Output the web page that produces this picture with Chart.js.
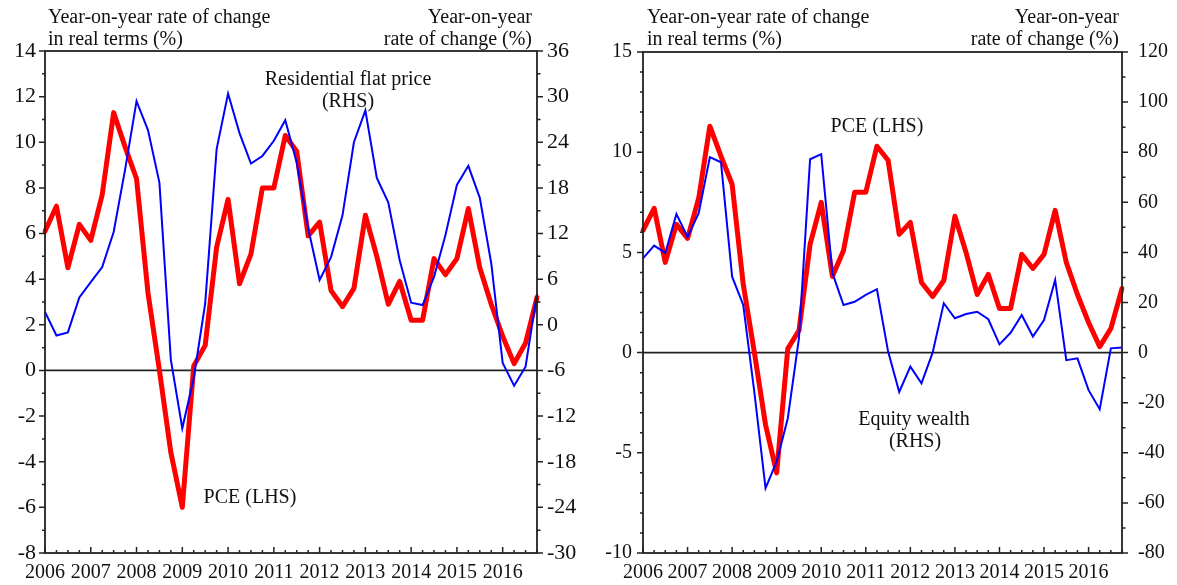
<!DOCTYPE html>
<html>
<head>
<meta charset="utf-8">
<script src="https://cdn.jsdelivr.net/npm/chart.js@4.4.1/dist/chart.umd.min.js"></script>
<style>
body { margin: 0; background: #fff; }
canvas { position: absolute; top: 0; }
#c1 { left: 0; }
#c2 { left: 588px; }
</style>
</head>
<body>
<canvas id="c1" width="588" height="585"></canvas>
<canvas id="c2" width="589" height="585"></canvas>
<script>
// quarterly data, 2006Q1 .. 2016Q4
var years = [2006, 2007, 2008, 2009, 2010, 2011, 2012, 2013, 2014, 2015, 2016];
var quarters = [];
years.forEach(function (y) {
    for (var q = 1; q <= 4; q++) quarters.push(y + 'Q' + q);
});

// PCE, yoy real (%) - LHS in both panels
var pce = [6.1, 7.2, 4.5, 6.4, 5.7, 7.7, 11.3, 9.8, 8.4, 3.4, 0.0, -3.6,
           -6.0, 0.2, 1.1, 5.4, 7.5, 3.8, 5.1, 8.0, 8.0, 10.3, 9.6, 5.9,
           6.5, 3.5, 2.8, 3.6, 6.8, 5.0, 2.9, 3.9, 2.2, 2.2, 4.9, 4.2,
           4.9, 7.1, 4.5, 2.9, 1.5, 0.3, 1.2, 3.2];

// residential flat price, yoy (%) - RHS left panel
var flatPrice = [1.7, -1.4, -1.0, 3.6, 5.6, 7.6, 12.2, 20.4, 29.4, 25.6, 18.7, -4.6,
                 -13.6, -7.0, 2.8, 23.1, 30.4, 25.2, 21.2, 22.2, 24.2, 26.9, 21.3, 12.7,
                 5.9, 8.9, 14.4, 24.0, 28.2, 19.3, 16.1, 8.5, 2.9, 2.6, 6.3, 11.8,
                 18.4, 20.9, 16.7, 8.1, -5.0, -8.0, -5.5, 4.1];

// equity wealth, yoy (%) - RHS right panel
var equity = [37.6, 42.7, 39.8, 55.3, 46.2, 55.7, 78.0, 76.0, 30.3, 19.0, -16.0, -54.1,
              -43.5, -26.2, 5.8, 77.2, 79.2, 31.8, 19.0, 20.3, 23.0, 25.3, 0.5, -15.7,
              -5.6, -12.3, 0.0, 19.7, 13.7, 15.4, 16.3, 13.3, 3.3, 7.9, 15.0, 6.4,
              13.0, 29.0, -3.0, -2.3, -15.0, -22.6, 1.7, 2.0];

var FONT = 'Liberation Serif, Times New Roman, serif';
var TXT = '#111';
var AXIS = '#222';

function isMajor(v, min, step) {
    var k = (v - min) / step;
    return Math.abs(k - Math.round(k)) < 1e-6;
}

var decor = {
    id: 'decor',
    beforeDatasetsDraw: function (chart, args, o) {
        var ctx = chart.ctx, a = chart.chartArea;
        var y0 = chart.scales.yL.getPixelForValue(0);
        ctx.save();
        ctx.strokeStyle = AXIS;
        ctx.lineWidth = 1.8;
        ctx.beginPath();
        ctx.moveTo(a.left, y0); ctx.lineTo(a.right, y0);
        ctx.stroke();
        ctx.restore();
    },
    afterDatasetsDraw: function (chart, args, o) {
        var ctx = chart.ctx, a = chart.chartArea;
        var yl = chart.scales.yL, yr = chart.scales.yR, xs = chart.scales.x;
        ctx.save();
        ctx.strokeStyle = AXIS;
        ctx.lineWidth = 1.8;
        ctx.strokeRect(a.left, a.top, a.right - a.left, a.bottom - a.top);

        ctx.lineWidth = 1.5;
        ctx.beginPath();
        var v, p, len;
        for (v = o.l.min; v <= o.l.max + 1e-9; v += o.l.minor) {
            p = yl.getPixelForValue(v);
            len = isMajor(v, o.l.min, o.l.step) ? 6 : 3;
            ctx.moveTo(a.left, p); ctx.lineTo(a.left - len, p);
        }
        for (v = o.r.min; v <= o.r.max + 1e-9; v += o.r.minor) {
            p = yr.getPixelForValue(v);
            len = isMajor(v, o.r.min, o.r.step) ? 6 : 3.5;
            ctx.moveTo(a.right, p); ctx.lineTo(a.right + len, p);
        }
        for (var i = 0; i < quarters.length; i++) {
            p = xs.getPixelForValue(i);
            len = i % 4 === 0 ? 6 : 3;
            ctx.moveTo(p, a.bottom); ctx.lineTo(p, a.bottom - len);
        }
        ctx.stroke();

        ctx.fillStyle = TXT;
        ctx.font = '20px ' + FONT;
        ctx.textBaseline = 'alphabetic';
        o.texts.forEach(function (t) {
            ctx.textAlign = t.align;
            ctx.fillText(t.s, t.x, t.y);
        });
        ctx.restore();
    }
};

function makeChart(id, blueData, c) {
    var xFont = { family: FONT, size: 20 };
    var yFont = { family: FONT, size: c.ySize };
    return new Chart(document.getElementById(id), {
        type: 'line',
        data: {
            labels: quarters,
            datasets: [{
                data: pce,
                yAxisID: 'yL',
                borderColor: '#ff0000',
                borderWidth: 5,
                pointRadius: 0,
                tension: 0,
                borderJoinStyle: 'round',
                borderCapStyle: 'round',
                order: 1
            }, {
                data: blueData,
                yAxisID: 'yR',
                borderColor: '#0000ff',
                borderWidth: 2,
                pointRadius: 0,
                tension: 0,
                order: 0
            }]
        },
        options: {
            responsive: false,
            animation: false,
            devicePixelRatio: 1,
            layout: { padding: { top: c.top, left: 0, right: 0, bottom: 0 } },
            plugins: { legend: { display: false }, tooltip: { enabled: false }, decor: c },
            scales: {
                x: {
                    type: 'category',
                    offset: false,
                    grid: { display: false, drawTicks: false },
                    border: { display: false },
                    ticks: {
                        autoSkip: false, maxRotation: 0, padding: 8,
                        color: TXT, font: xFont,
                        callback: function (val, idx) { return idx % 4 === 0 ? String(years[idx / 4]) : ''; }
                    },
                    afterFit: function (s) { s.height = 32; }
                },
                yL: {
                    position: 'left',
                    min: c.l.min, max: c.l.max,
                    grid: { display: false, drawTicks: false },
                    border: { display: false },
                    ticks: { stepSize: c.l.step, padding: c.l.pad, color: TXT, font: yFont },
                    afterFit: function (s) { s.width = c.l.width; }
                },
                yR: {
                    position: 'right',
                    min: c.r.min, max: c.r.max,
                    grid: { display: false, drawTicks: false },
                    border: { display: false },
                    ticks: { stepSize: c.r.step, padding: c.r.pad, color: TXT, font: yFont },
                    afterFit: function (s) { s.width = c.r.width; }
                }
            }
        },
        plugins: [decor]
    });
}

makeChart('c1', flatPrice, {
    top: 51,
    ySize: 22,
    l: { min: -8, max: 14, step: 2, minor: 1, width: 45, pad: 9 },
    r: { min: -30, max: 36, step: 6, minor: 3, width: 51, pad: 10 },
    texts: [
        { s: 'Year-on-year rate of change', x: 48, y: 23, align: 'left' },
        { s: 'in real terms (%)', x: 48, y: 45, align: 'left' },
        { s: 'Year-on-year', x: 532, y: 23, align: 'right' },
        { s: 'rate of change (%)', x: 532, y: 45, align: 'right' },
        { s: 'Residential flat price', x: 348, y: 85, align: 'center' },
        { s: '(RHS)', x: 348, y: 107, align: 'center' },
        { s: 'PCE (LHS)', x: 250, y: 503, align: 'center' }
    ]
});

makeChart('c2', equity, {
    top: 52,
    ySize: 20,
    l: { min: -10, max: 15, step: 5, minor: 1, width: 55, pad: 11 },
    r: { min: -80, max: 120, step: 20, minor: 10, width: 55, pad: 16 },
    texts: [
        { s: 'Year-on-year rate of change', x: 59, y: 23, align: 'left' },
        { s: 'in real terms (%)', x: 59, y: 45, align: 'left' },
        { s: 'Year-on-year', x: 531, y: 23, align: 'right' },
        { s: 'rate of change (%)', x: 531, y: 45, align: 'right' },
        { s: 'PCE (LHS)', x: 289, y: 132, align: 'center' },
        { s: 'Equity wealth', x: 326, y: 425, align: 'center' },
        { s: '(RHS)', x: 327, y: 447, align: 'center' }
    ]
});
</script>
</body>
</html>
